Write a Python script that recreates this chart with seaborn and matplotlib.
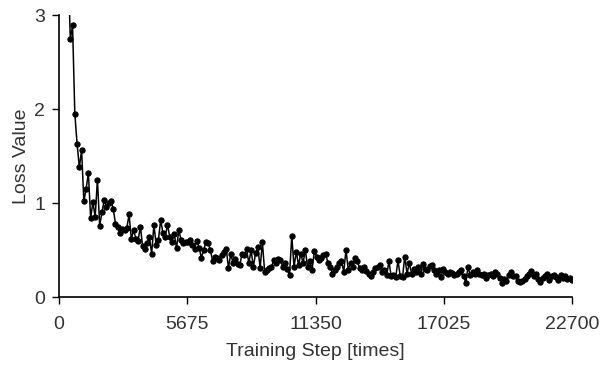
import numpy as np
import pandas as pd
import matplotlib
matplotlib.use("Agg")
import matplotlib.pyplot as plt
import seaborn as sns

# --- データ ---
start_step = 400
step_interval = 100

loss_head = [3.60]
loss_a = [2.74, 2.89, 1.95, 1.63, 1.38, 1.56, 1.02, 1.15, 1.32, 0.84,
          1.01, 0.85, 1.25, 0.76, 0.90, 1.03, 0.96, 1.00, 1.02, 0.94,
          0.78, 0.75, 0.68, 0.72, 0.71, 0.73, 0.88, 0.62, 0.71, 0.62,
          0.60, 0.75, 0.54, 0.51, 0.57, 0.64, 0.46, 0.77, 0.55, 0.61,
          0.82, 0.68, 0.64, 0.77, 0.64, 0.59, 0.67, 0.52, 0.71, 0.61,
          0.57, 0.59, 0.59, 0.61, 0.55, 0.51, 0.60, 0.52, 0.42, 0.50,
          0.58]
loss_b = [0.57, 0.50, 0.38, 0.43, 0.41, 0.39, 0.45, 0.48, 0.51, 0.31,
          0.46, 0.36, 0.40, 0.35, 0.34, 0.46, 0.45, 0.51, 0.36, 0.50,
          0.32, 0.47, 0.53, 0.31, 0.58, 0.27, 0.29, 0.31, 0.32, 0.39,
          0.36, 0.40, 0.39, 0.32, 0.36, 0.30, 0.23, 0.65, 0.32, 0.48,
          0.34, 0.46]
loss_c = [0.36, 0.50, 0.32, 0.38, 0.29, 0.49, 0.43, 0.39, 0.41, 0.45,
          0.46, 0.36, 0.32, 0.25, 0.29, 0.32, 0.36, 0.38, 0.27, 0.50,
          0.29, 0.36, 0.32, 0.41, 0.38, 0.31, 0.29, 0.32, 0.28, 0.25,
          0.22, 0.27, 0.31, 0.32, 0.34, 0.27, 0.29, 0.23, 0.38, 0.22,
          0.23, 0.21, 0.39, 0.22]
loss_d = [0.21, 0.43, 0.25, 0.36, 0.25, 0.30, 0.27, 0.32, 0.25, 0.35,
          0.30, 0.29, 0.33, 0.34, 0.29, 0.25, 0.29, 0.21, 0.30, 0.27,
          0.25, 0.27, 0.26, 0.23, 0.25, 0.27, 0.29, 0.22, 0.15, 0.32,
          0.23, 0.27, 0.25, 0.29, 0.25, 0.23, 0.25, 0.20, 0.23, 0.25,
          0.22, 0.27, 0.24]
loss_e = [0.20, 0.15, 0.19, 0.17, 0.23, 0.27, 0.22, 0.22, 0.17, 0.16,
          0.17, 0.19, 0.22, 0.24, 0.28, 0.22, 0.24, 0.19, 0.16, 0.20,
          0.22, 0.24, 0.18, 0.22, 0.23, 0.21, 0.18, 0.23, 0.20, 0.22,
          0.19, 0.20, 0.18]

x_ticks = [0, 5675, 11350, 17025, 22700]
y_ticks = [0, 1, 2, 3]

loss = loss_head + loss_a + loss_b + loss_c + loss_d + loss_e
steps = start_step + step_interval * np.arange(len(loss))
df = pd.DataFrame({"step": steps, "loss": loss})

# --- デザイン ---
sns.set_theme(style="ticks")
plt.rcParams["font.family"] = ["Liberation Sans", "DejaVu Sans"]
text_color = "#333333"

fig = plt.figure(figsize=(6.01, 3.66), dpi=100)
ax = fig.add_axes([59 / 601, 69 / 366, 513 / 601, 282 / 366])

sns.lineplot(data=df, x="step", y="loss", ax=ax, color="black",
             linewidth=1.1, marker="o", markersize=3.8,
             markeredgecolor="black", markerfacecolor="black")

ax.set_xlim(0, 22700)
ax.set_ylim(0, 3)
ax.set_xticks(x_ticks)
ax.set_yticks(y_ticks)
ax.set_xticklabels([str(t) for t in x_ticks])
ax.tick_params(axis="both", labelsize=14, colors=text_color,
               length=5, width=1.0, direction="out")
ax.tick_params(axis="x", pad=9)
ax.tick_params(axis="y", pad=5)
ax.tick_params(color="black")

for side in ["top", "right"]:
    ax.spines[side].set_visible(False)
for side in ["left", "bottom"]:
    ax.spines[side].set_color("black")
    ax.spines[side].set_linewidth(1.2)

ax.set_xlabel("Training Step [times]", fontsize=14, color=text_color, labelpad=7)
ax.set_ylabel("Loss Value", fontsize=14, color=text_color, labelpad=3)

fig.savefig("out.png", dpi=100)
